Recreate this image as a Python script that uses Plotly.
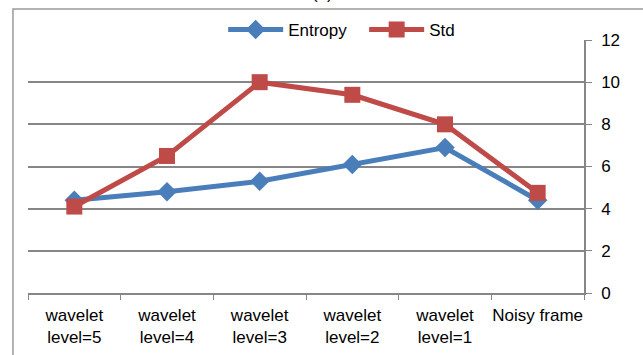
import plotly.graph_objects as go

categories = ["wavelet<br>level=5", "wavelet<br>level=4", "wavelet<br>level=3",
              "wavelet<br>level=2", "wavelet<br>level=1", "Noisy frame"]
entropy = [4.4, 4.8, 5.3, 6.1, 6.9, 4.4]
std = [4.1, 6.5, 10.0, 9.4, 8.0, 4.75]
y_ticks = [0, 2, 4, 6, 8, 10, 12]

FONT = "Liberation Sans, Arial"

fig = go.Figure()
fig.add_trace(go.Scatter(x=categories, y=entropy, name="Entropy", mode="lines+markers",
                         line=dict(color="#4A7EBB", width=5),
                         marker=dict(symbol="diamond", size=15, color="#4A7EBB")))
fig.add_trace(go.Scatter(x=categories, y=std, name="Std", mode="lines+markers",
                         line=dict(color="#BE4B48", width=5),
                         marker=dict(symbol="square", size=16, color="#BE4B48")))

fig.update_layout(
    width=643, height=355,
    margin=dict(l=28, r=59, t=40, b=62, autoexpand=False),
    paper_bgcolor="white", plot_bgcolor="white",
    font=dict(family=FONT, size=15, color="black"),
    showlegend=True,
    legend=dict(orientation="h", x=0.351, xanchor="left", y=1.04, yanchor="middle",
                font=dict(size=17), bgcolor="rgba(0,0,0,0)", itemwidth=55,
                entrywidth=71, entrywidthmode="pixels"),
    xaxis=dict(range=[-0.5, 5.5], tickson="boundaries", ticks="outside", ticklen=5,
               tickcolor="#868686", showline=True, linecolor="#868686", linewidth=1.5,
               showgrid=False, tickfont=dict(size=17), tickangle=0, fixedrange=True,
               ticklabelstandoff=6),
    yaxis=dict(range=[0, 12], side="right", tickvals=y_ticks, ticks="outside", ticklen=6,
               tickcolor="#868686", showline=True, linecolor="#868686", linewidth=1.5,
               showgrid=True, gridcolor="#868686", gridwidth=1.5, zeroline=False,
               tickfont=dict(size=17), ticklabelstandoff=6, fixedrange=True),
    shapes=[dict(type="rect", xref="paper", yref="paper", x0=-0.027, x1=1.3,
                 y0=-0.5, y1=1.1225, line=dict(color="#9A9A9A", width=1.5),
                 fillcolor="rgba(0,0,0,0)", layer="below")],
    annotations=[dict(text="(a)", xref="paper", yref="paper", x=0.53, y=1.138,
                      xanchor="center", yanchor="bottom", showarrow=False,
                      font=dict(size=17))],
)

fig.write_html("out.html", post_script="document.body.style.margin='0';",
               config={"displayModeBar": False})
